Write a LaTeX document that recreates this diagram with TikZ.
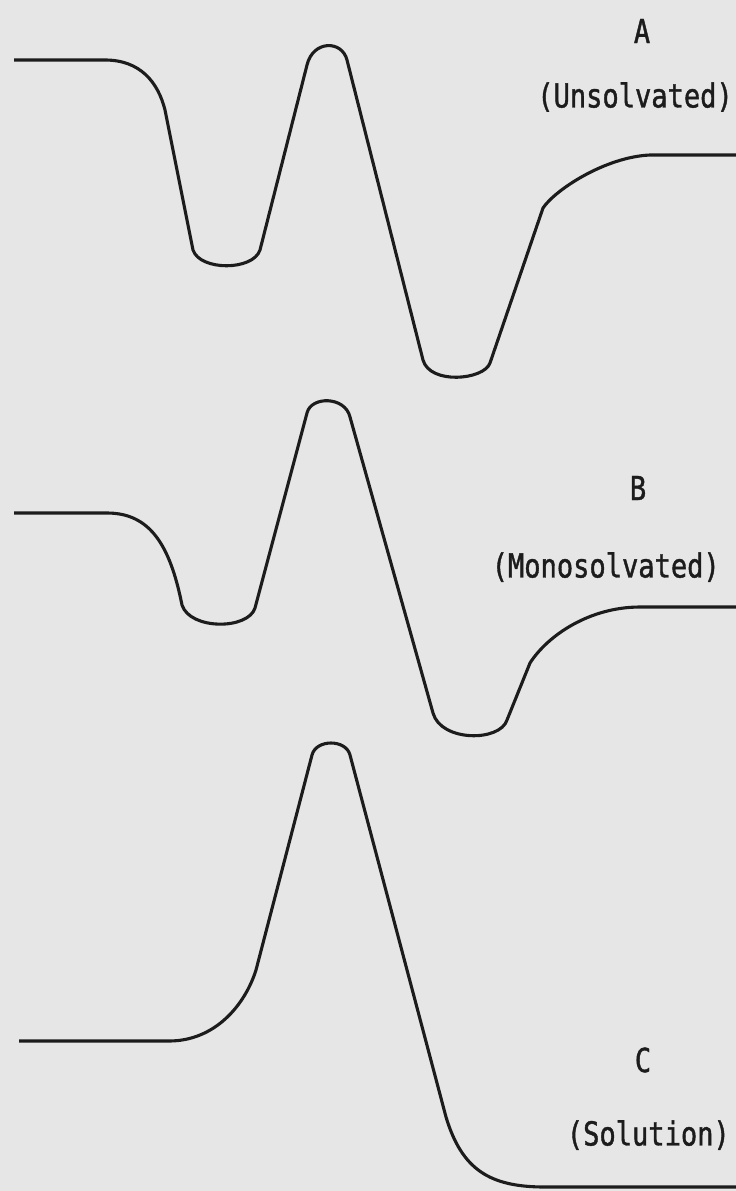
\documentclass[tikz,border=0pt]{standalone}
\usepackage{fontspec}
\newfontfamily\plotfont[FakeStretch=0.82, FakeBold=1.2]{DejaVu Sans Mono}
\usepackage{tikz}
\definecolor{paper}{RGB}{230,230,230}
\definecolor{ink}{RGB}{28,28,28}

\begin{document}
\begin{tikzpicture}[x=1pt, y=-1pt]
\tikzset{
  curve/.style={draw=ink, line width=3.1pt, line join=round},
  lbl/.style={text=ink, inner sep=0pt, font=\plotfont\fontsize{33}{38}\selectfont},
}
\fill[paper] (0,0) rectangle (736,1191);
\useasboundingbox (0,0) rectangle (736,1191);
% A (unsolvated)
\draw[curve] (14,60) -- (105,60) .. controls (140,60) and (158,82) .. (165,110)
  -- (193,250) .. controls (200,271) and (253,271) .. (260,250)
  -- (307,65) .. controls (313,40) and (342,40) .. (347,60)
  -- (423,360) .. controls (430,385) and (484,380) .. (490,363)
  -- (543,208) .. controls (555,190) and (605,157) .. (650,155) -- (736,155);
\node[lbl] (labA) at (642,31) {A};
\node[lbl, anchor=east] (subA) at (733,97) {(Unsolvated)};
% B (monosolvated)
\draw[curve] (14,513) -- (107,513) .. controls (150,513) and (170,545) .. (182,605)
  .. controls (190,630) and (248,630) .. (255,608)
  -- (307,413) .. controls (311,396) and (345,396) .. (350,417)
  -- (433,713) .. controls (441,742) and (500,742) .. (507,720)
  -- (530,663) .. controls (548,635) and (590,607) .. (640,607) -- (736,607);
\node[lbl] (labB) at (638,488) {B};
\node[lbl, anchor=east] (subB) at (720,567) {(Monosolvated)};
% C (solution)
\draw[curve] (19,1041) -- (169,1041) .. controls (215,1041) and (245,1005) .. (256,970)
  -- (312,755) .. controls (316,739) and (346,739) .. (350,755)
  -- (446,1117) .. controls (462,1170) and (490,1187) .. (545,1187) -- (736,1187);
\node[lbl] (labC) at (643,1060) {C};
\node[lbl, anchor=east] (subC) at (730,1135) {(Solution)};
\end{tikzpicture}
\end{document}
